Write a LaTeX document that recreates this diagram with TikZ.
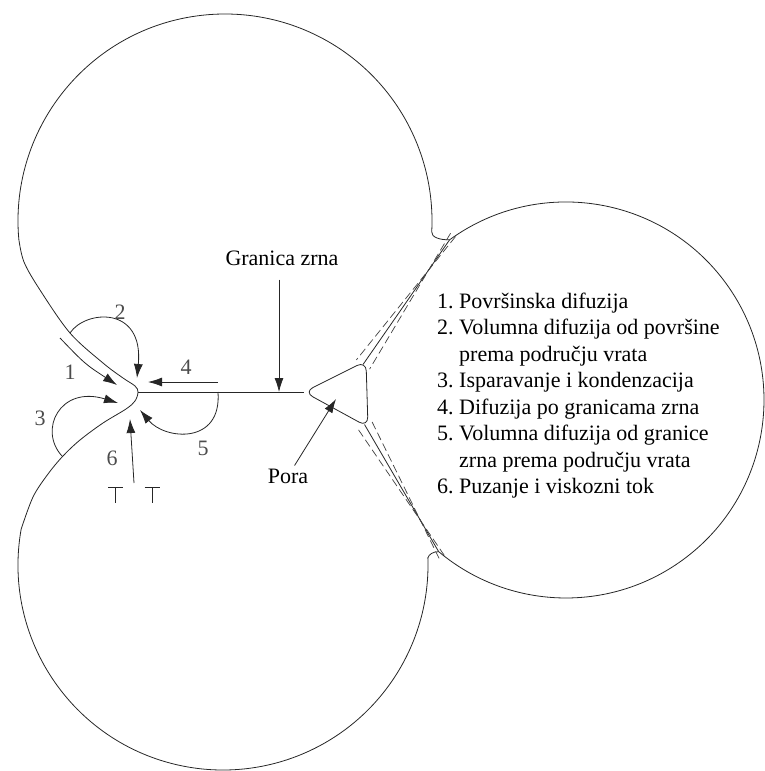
\documentclass[tikz,border=0pt]{standalone}
\usepackage{fontspec}
\setmainfont{Liberation Serif}
\usetikzlibrary{arrows.meta}
\tikzset{
  {grain/.style} ={draw=black!85, line width=0.8pt},
  {ghost/.style} ={draw=black!75, line width=0.7pt, dash pattern=on 8pt off 4pt},
  {flow/.style} ={draw=black!85, line width=0.8pt,
                  -{Latex[length=14pt,width=9pt]}},
  {digit/.style} ={text=black!70, inner sep=0,
                   font=\fontsize{22}{22}\selectfont},
  {caption/.style} ={inner sep=0, font=\fontsize{22}{26.5}\selectfont},
  {dislocation/.style} ={draw=black!85, line width=0.8pt},
}

\begin{document}
\begin{tikzpicture}[x=1pt,y=-1pt]
\useasboundingbox (0,0) rectangle (765,771);
\clip (0,0) rectangle (765,771);
\coordinate (cT) at (225,221);
\coordinate (cB) at (223,565);
\coordinate (cR) at (566,400);
\coordinate (nose) at (138,392);
\coordinate (poreL) at (304,392);
\coordinate (poreT) at (366,361);
\coordinate (poreB) at (368,427);
\coordinate (gbT) at (363,364.5);
\coordinate (gbB) at (364.5,424.5);
\coordinate (jT) at (449.6,239.8);
\coordinate (jB) at (438.7,551.7);

% three grains
\draw[grain] (cT) ++(175:207) arc[start angle=175, end angle=363, radius=207]
  .. controls (431.4,237) and (439,240) .. (jT);
\draw[grain] (cB) ++(190:205) arc[start angle=190, end angle=-2, radius=205]
  .. controls (428.8,554.5) and (433,551.5) .. (jB);
\draw[grain] (jT) arc[start angle=234, end angle=490, radius=198];
\draw[grain] plot[smooth, tension=0.55] coordinates {(18.8,239) (24,262)
  (40,290) (70,333) (103,363) (123,378) (135,386) (nose) (135,401)
  (126,409) (103,423) (80,440) (63,456) (48,474) (33,497) (21.1,529.4)};

% pore and grain boundaries
\draw[grain, rounded corners=10pt] (335,376.5) -- (poreT) -- (poreB)
  -- (poreL) -- cycle;
\draw[grain] (nose) -- (poreL);
\draw[grain] (gbT) -- (jT);
\draw[grain] (gbB) -- (jB);
\draw[ghost] (455.5,236.6) -- (356.4,359.9);
\draw[ghost] (450.6,233.2) -- (369.6,369.1);
\draw[ghost] (444.3,555.4) -- (357.6,428.5);
\draw[ghost] (439.1,558.4) -- (371.4,420.5);

% transport paths
\coordinate (m1a) at (60,338);   \coordinate (m1b) at (117,385);
\coordinate (m2a) at (70,333);   \coordinate (m2b) at (137,378);
\coordinate (m3a) at (62,456);   \coordinate (m3b) at (118,403);
\coordinate (m4a) at (218,382);  \coordinate (m4b) at (148,382);
\coordinate (m5a) at (218,392);  \coordinate (m5b) at (140,410);
\coordinate (m6a) at (134,483);  \coordinate (m6b) at (130,419);
\draw[flow] (m1a) .. controls (85,364) .. (m1b);
\draw[flow] (m2a) .. controls (85,310) and (144,305) .. (m2b);
\draw[flow] (m3a) .. controls (38,430) and (60,385) .. (m3b);
\draw[flow] (m4a) -- (m4b);
\draw[flow] (m5a) .. controls (222,445) and (165,440) .. (m5b);
\draw[flow] (m6a) -- (m6b);
\node[digit] (l1) at (70,372) {1};
\node[digit] (l2) at (120,312) {2};
\node[digit] (l3) at (40,418) {3};
\node[digit] (l4) at (186,367) {4};
\node[digit] (l5) at (203,448) {5};
\node[digit] (l6) at (112,458) {6};
\foreach \xd in {115.5,152}
  \draw[dislocation] (\xd-7.5,487) -- (\xd+7.5,487) (\xd,487) -- (\xd,503);

% labels
\coordinate (gbhit) at (279,392);
\coordinate (porein) at (336,399);
\node[caption] (gz) at (282,258) {Granica zrna};
\node[caption, inner sep=3pt] (pora) at (288,476) {Pora};
\draw[flow, shorten <=14pt] (gz.south -| gbhit) -- (gbhit);
\draw[flow] (pora) -- (porein);
\node[caption, anchor=north west] (list) at (437,289.5) {%
  \begin{tabular}{@{}l@{\ }l@{}}
  1. & Površinska difuzija\\
  2. & Volumna difuzija od površine\\
     & prema području vrata\\
  3. & Isparavanje i kondenzacija\\
  4. & Difuzija po granicama zrna\\
  5. & Volumna difuzija od granice\\
     & zrna prema području vrata\\
  6. & Puzanje i viskozni tok
  \end{tabular}};
\end{tikzpicture}
\end{document}
